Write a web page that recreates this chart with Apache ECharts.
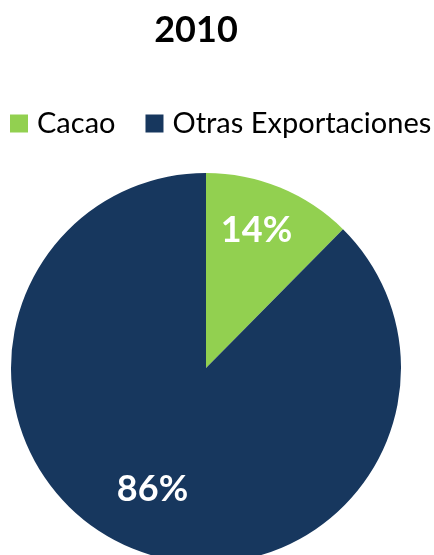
<!DOCTYPE html>
<html><head><meta charset="utf-8">
<script src="https://cdn.jsdelivr.net/npm/echarts@6/dist/echarts.min.js"></script>
<style>html,body{margin:0;padding:0;background:#fff}#c{width:434px;height:555px}</style>
</head><body><div id="c"></div>
<script>
const title = '2010';
const categories = ['Cacao', 'Otras Exportaciones'];
const values = [12.4, 87.6];
const labelTexts = ['14%', '86%'];
const colors = ['#92D050', '#17375E'];
const labelOffsets = [[-4, -5], [1, -11]];

const data = categories.map((n, i) => ({ name: n, value: values[i], itemStyle: { color: colors[i] } }));
const chart = echarts.init(document.getElementById('c'));
chart.setOption({
  animation: false,
  title: { text: title, left: 191, top: 7, textAlign: 'center',
    textStyle: { fontFamily: 'Lato', fontWeight: 'bold', fontSize: 36, color: '#000' } },
  legend: { left: 10, top: 109, width: 430, padding: 0, orient: 'horizontal', icon: 'rect',
    itemWidth: 18, itemHeight: 18, itemGap: 30,
    textStyle: { fontFamily: 'Lato', fontSize: 29, color: '#000', padding: [0, 0, 0, 4] },
    data: categories },
  series: [
    { type: 'pie', center: [206, 368], radius: [0, 195], startAngle: 90, clockwise: true,
      silent: true, label: { show: false }, labelLine: { show: false }, data: data },
    { type: 'pie', center: [206, 368], radius: [86, 195], startAngle: 90, clockwise: true,
      silent: true, legendHoverLink: false,
      itemStyle: { color: 'rgba(0,0,0,0)' },
      label: { show: true, position: 'inside', formatter: p => labelTexts[p.dataIndex],
        fontFamily: 'Lato', fontWeight: 'bold', fontSize: 36, color: '#fff' },
      labelLine: { show: false },
      data: categories.map((n, i) => ({ name: n + ' ', value: values[i], label: { offset: labelOffsets[i] } })) }
  ]
});
</script></body></html>
